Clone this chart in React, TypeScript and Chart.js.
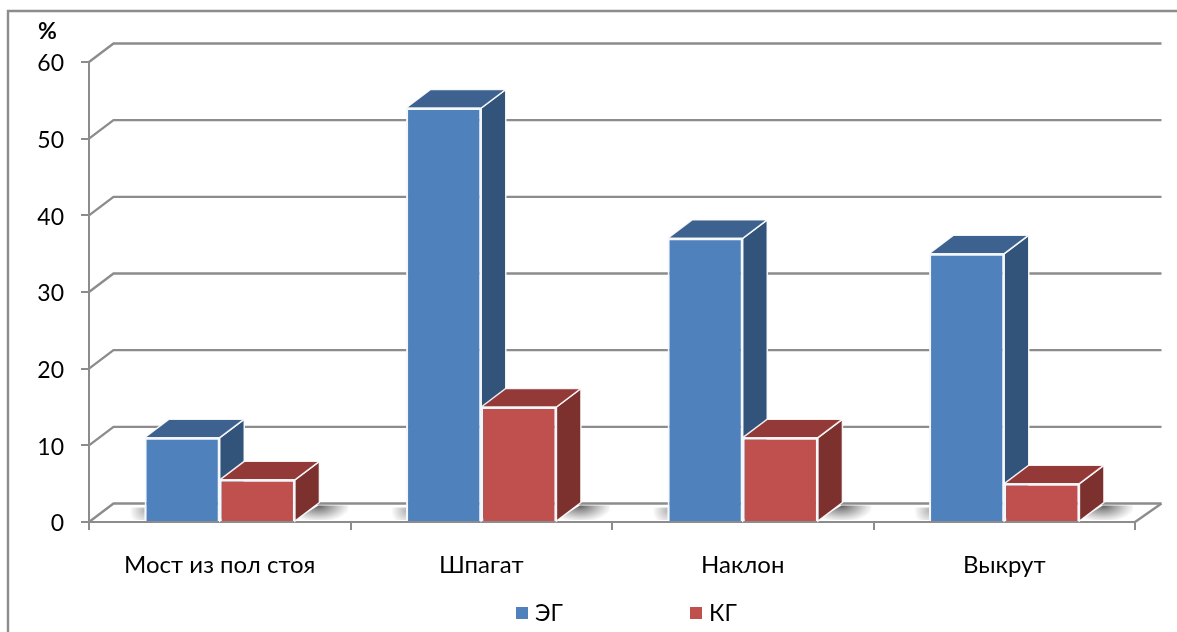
import React, { useEffect, useRef } from "react";
import { Chart, registerables } from "chart.js";

Chart.register(...registerables);

const categories = ["Мост из пол стоя", "Шпагат", "Наклон", "Выкрут"];
const egValues = [11, 54, 37, 35];
const kgValues = [5.5, 15, 11, 5];
const yMax = 60;
const yStep = 10;

const seriesStyles = [
  { label: "ЭГ", front: "#4F81BD", top: "#3D628F", side: "#32537A" },
  { label: "КГ", front: "#C0504D", top: "#933A38", side: "#7C312F" },
];

const LINE = "#8C8C8C";
const DEPTH_X = 24.5;
const DEPTH_Y = 18.5;
const UI_FONT = 'Lato, "Open Sans", sans-serif';

const quad = (ctx: CanvasRenderingContext2D, p: number[][], fill: string | CanvasGradient) => {
  ctx.beginPath();
  ctx.moveTo(p[0][0], p[0][1]);
  p.slice(1).forEach(([x, y]) => ctx.lineTo(x, y));
  ctx.closePath();
  ctx.fillStyle = fill;
  ctx.fill();
};

// Outer frame, back wall and floor of the 3D plot.
const backdrop = {
  id: "backdrop",
  beforeDatasetsDraw(chart: any) {
    const { ctx, chartArea } = chart;
    const y = chart.scales.y;
    const { left, right, bottom } = chartArea;
    ctx.save();
    ctx.strokeStyle = LINE;
    ctx.lineWidth = 2.4;
    ctx.beginPath();
    ctx.moveTo(8, chart.height);
    ctx.lineTo(8, 11);
    ctx.lineTo(chart.width, 11);
    ctx.stroke();

    y.ticks.forEach((t: any) => {
      const py = y.getPixelForValue(t.value);
      ctx.beginPath();
      ctx.moveTo(left, py);
      ctx.lineTo(left + DEPTH_X, py - DEPTH_Y);
      ctx.lineTo(right + DEPTH_X + 2, py - DEPTH_Y);
      ctx.stroke();
    });
    ctx.beginPath();
    ctx.moveTo(right, bottom);
    ctx.lineTo(right + DEPTH_X + 2, bottom - DEPTH_Y);
    ctx.stroke();

    // Soft floor shadows on either side of each bar group.
    const first = chart.getDatasetMeta(0).data;
    const second = chart.getDatasetMeta(1).data;
    const floorTop = bottom - DEPTH_Y + 2;
    const floorBottom = bottom - 2;
    first.forEach((bar: any, i: number) => {
      const lx = bar.x - bar.width / 2;
      const gl = ctx.createRadialGradient(lx, floorTop + 5, 0, lx, floorTop + 5, 15);
      gl.addColorStop(0, "rgba(120,120,120,0.55)");
      gl.addColorStop(1, "rgba(120,120,120,0)");
      quad(ctx, [[lx, floorTop + 2], [lx, floorBottom], [lx - 18, floorBottom], [lx - 18, floorTop + 2]], gl);

      const other = second[i];
      const rx = other.x + other.width / 2;
      const cx = rx + DEPTH_X - 1;
      // The shadow is stretched along the floor: wider than it is deep.
      ctx.save();
      ctx.beginPath();
      ctx.moveTo(rx, floorBottom);
      ctx.lineTo(cx, floorTop);
      ctx.lineTo(cx + 30, floorTop);
      ctx.lineTo(cx + 30, floorBottom);
      ctx.closePath();
      ctx.clip();
      ctx.translate(cx, floorTop);
      ctx.scale(1.35, 0.7);
      const gr = ctx.createRadialGradient(0, 0, 0, 0, 0, 24);
      gr.addColorStop(0, "rgba(85,85,85,0.95)");
      gr.addColorStop(0.5, "rgba(120,120,120,0.55)");
      gr.addColorStop(1, "rgba(140,140,140,0)");
      ctx.fillStyle = gr;
      ctx.fillRect(-40, -5, 80, 40);
      ctx.restore();
    });

    // Depth faces of the bars; the front faces are the chart's own bars.
    first.forEach((_: any, i: number) => {
      [0, 1].forEach((d) => {
        const bar = chart.getDatasetMeta(d).data[i];
        const style = seriesStyles[d];
        const x0 = bar.x - bar.width / 2;
        const x1 = bar.x + bar.width / 2;
        const top = bar.y;
        const base = bar.base;
        const sidePts = [[x1, top], [x1 + DEPTH_X, top - DEPTH_Y], [x1 + DEPTH_X, base - DEPTH_Y], [x1, base]];
        const topPts = [[x0, top], [x0 + DEPTH_X, top - DEPTH_Y], [x1 + DEPTH_X, top - DEPTH_Y], [x1, top]];
        ctx.strokeStyle = "rgba(255,255,255,0.9)";
        ctx.lineWidth = 1.5;
        quad(ctx, sidePts, style.side);
        ctx.stroke();
        quad(ctx, topPts, style.top);
        ctx.stroke();
      });
    });
    ctx.restore();
  },
  afterDraw(chart: any) {
    const { ctx } = chart;
    ctx.save();
    ctx.textBaseline = "middle";
    ctx.textAlign = "left";
    ctx.fillStyle = "#000";
    ctx.font = `bold 23px ${UI_FONT}`;
    ctx.fillText("%", 38, 32);

    // Legend entries come straight from the datasets.
    const slots = [516, 690];
    ctx.font = `23px ${UI_FONT}`;
    chart.data.datasets.forEach((ds: any, i: number) => {
      ctx.fillStyle = ds.backgroundColor;
      ctx.fillRect(slots[i], 607, 12, 12);
      ctx.fillStyle = "#000";
      ctx.fillText(ds.label, slots[i] + 19, 614);
    });
    ctx.restore();
  },
};

export default function App() {
  const ref = useRef<HTMLCanvasElement>(null);
  useEffect(() => {
    const chart = new Chart(ref.current!, {
      type: "bar",
      data: {
        labels: categories,
        datasets: [egValues, kgValues].map((data, i) => ({
          label: seriesStyles[i].label,
          data,
          backgroundColor: seriesStyles[i].front,
          borderColor: "#F4F7FB",
          borderWidth: 2,
          categoryPercentage: 0.575,
          barPercentage: 1,
        })),
      },
      plugins: [backdrop],
      options: {
        responsive: false,
        animation: false,
        layout: { padding: { left: 0, top: 62, right: 42, bottom: 0 } },
        plugins: { legend: { display: false }, tooltip: { enabled: false } },
        scales: {
          x: {
            afterFit: (s: any) => { s.height = 110; },
            grid: { drawOnChartArea: false, drawTicks: true, tickLength: 8, color: LINE, lineWidth: 2, offset: true },
            border: { color: LINE, width: 2 },
            ticks: { color: "#000", font: { family: UI_FONT, size: 24 }, padding: 21, maxRotation: 0 },
          },
          y: {
            min: 0,
            max: yMax,
            afterFit: (s: any) => { s.width = 89; },
            grid: { drawOnChartArea: false, drawTicks: true, tickLength: 8, color: LINE, lineWidth: 2 },
            border: { color: LINE, width: 2 },
            ticks: { stepSize: yStep, color: "#000", font: { family: UI_FONT, size: 23 }, padding: 17, labelOffset: 2 },
          },
        },
      },
    } as any);
    return () => chart.destroy();
  }, []);
  return (
    <div style={{ position: "absolute", left: 0, top: 0, width: 1177, height: 632, background: "#fff" }}>
      <canvas ref={ref} width={1177} height={632} style={{ display: "block" }} />
    </div>
  );
}
